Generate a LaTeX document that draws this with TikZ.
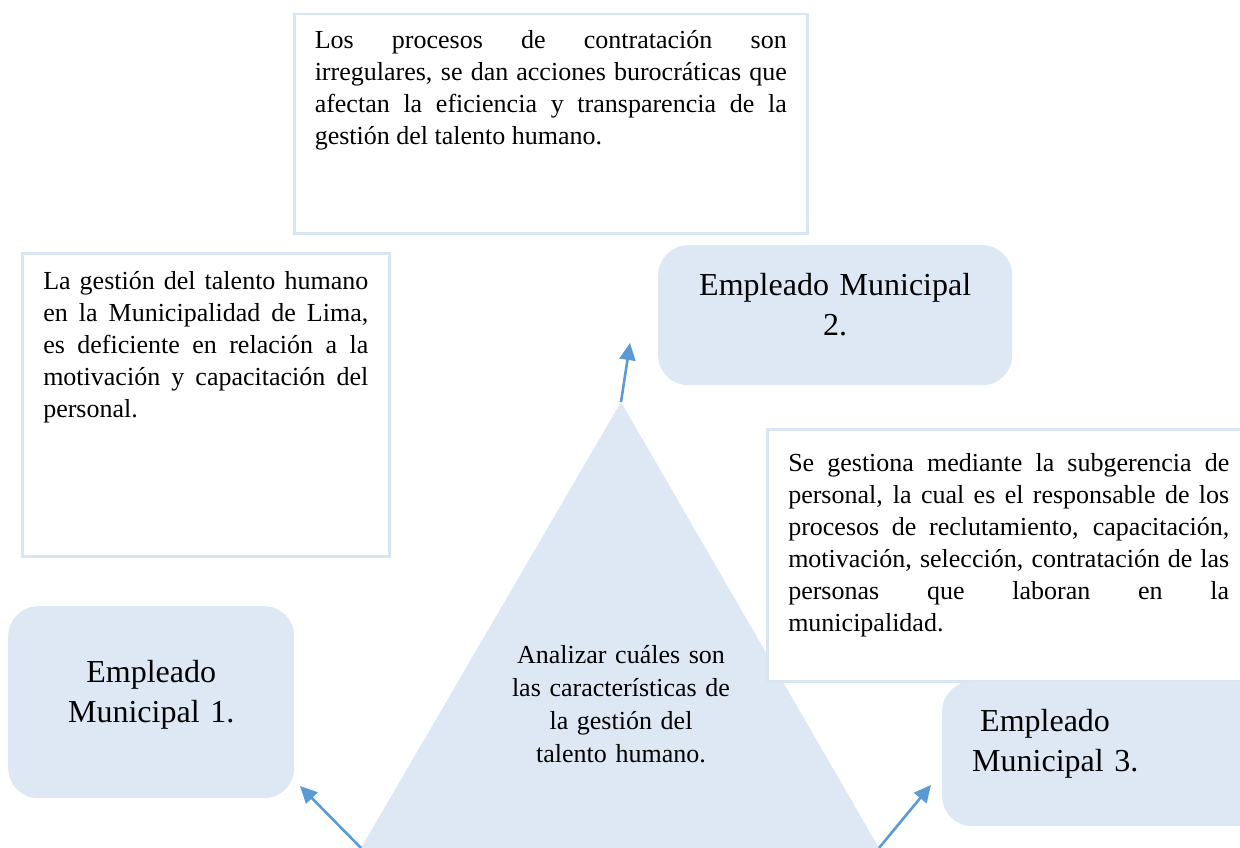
\documentclass[tikz,border=0pt]{standalone}
\usepackage{fontspec}
\setmainfont{Liberation Serif}
\usetikzlibrary{arrows.meta}
\definecolor{lblue}{HTML}{DEE8F5}
\definecolor{bord}{HTML}{DAE5F3}
\definecolor{arrowc}{HTML}{5B9BD5}
\begin{document}
\begin{tikzpicture}[x=1pt,y=-1pt,
  txtbox/.style={draw=bord, line width=2.5pt, fill=white, anchor=north west, align=justify,
    font={\fontsize{26}{32}\selectfont\hyphenpenalty=10000\exhyphenpenalty=10000}},
  emp/.style={fill=lblue, rounded corners=30pt, anchor=north west, inner ysep=0pt,
    font={\fontsize{32}{40}\selectfont}},
  goaltext/.style={align=center, text width=260pt, anchor=base, inner sep=0pt,
    font={\fontsize{26}{33}\selectfont}},
  arr/.style={draw=arrowc, line width=2.6pt, -{Triangle[length=17pt,width=16pt]}}]
\useasboundingbox (0,0) rectangle (1240,848);

% triangle
\coordinate (apex) at (621,402);
\coordinate (bl) at (361,848);
\coordinate (br) at (879,848);
\fill[lblue] (apex) -- (bl) -- (br) -- cycle;

% text boxes
\node[txtbox, text width=472pt, inner xsep=20.5pt, inner ysep=12pt, text height=22pt, text depth=173pt]
  (topbox) at (293,13)
  {Los procesos de contratación son\linebreak irregulares, se dan acciones burocráticas que\linebreak afectan la eficiencia y transparencia de la\linebreak gestión del talento humano.};

\node[txtbox, text width=325pt, inner xsep=21pt, inner ysep=14pt, text height=22pt, text depth=253pt]
  (leftbox) at (21,252)
  {La gestión del talento humano\linebreak en la Municipalidad de Lima,\linebreak es deficiente en relación a la\linebreak motivación y capacitación del\linebreak personal.};

\node[txtbox, text width=441pt, inner xsep=21pt, inner ysep=20pt, text height=22pt, text depth=190pt]
  (rightbox) at (766,428)
  {Se gestiona mediante la subgerencia de\linebreak personal, la cual es el responsable de los\linebreak procesos de reclutamiento, capacitación,\linebreak motivación, selección, contratación de las\linebreak personas que laboran en la\linebreak municipalidad.};

% employees
\node[emp, text width=310pt, inner xsep=22pt, align=center, text height=50pt, text depth=90pt]
  (emp2) at (658,245) {Empleado Municipal\\2.};
\node[emp, text width=250pt, inner xsep=18pt, align=center, text height=76pt, text depth=116pt]
  (emp1) at (8,606) {Empleado\\Municipal 1.};
\node[emp, text width=270pt, inner xsep=30pt, align=left, text height=50pt, text depth=95pt]
  (emp3) at (942,681) {\hspace*{8pt}Empleado\\Municipal 3.};

% goal text
\node[goaltext] (goal) at (621,663) {Analizar cuáles son\\las características de\\la gestión del\\talento humano.};

% arrows
\coordinate (tip1) at (300,786);
\coordinate (tip2) at (630,343);
\coordinate (tip3) at (931,785);
\draw[arr] (bl) -- (tip1);
\draw[arr] (apex) -- (tip2);
\draw[arr] (br) -- (tip3);
\end{tikzpicture}
\end{document}
